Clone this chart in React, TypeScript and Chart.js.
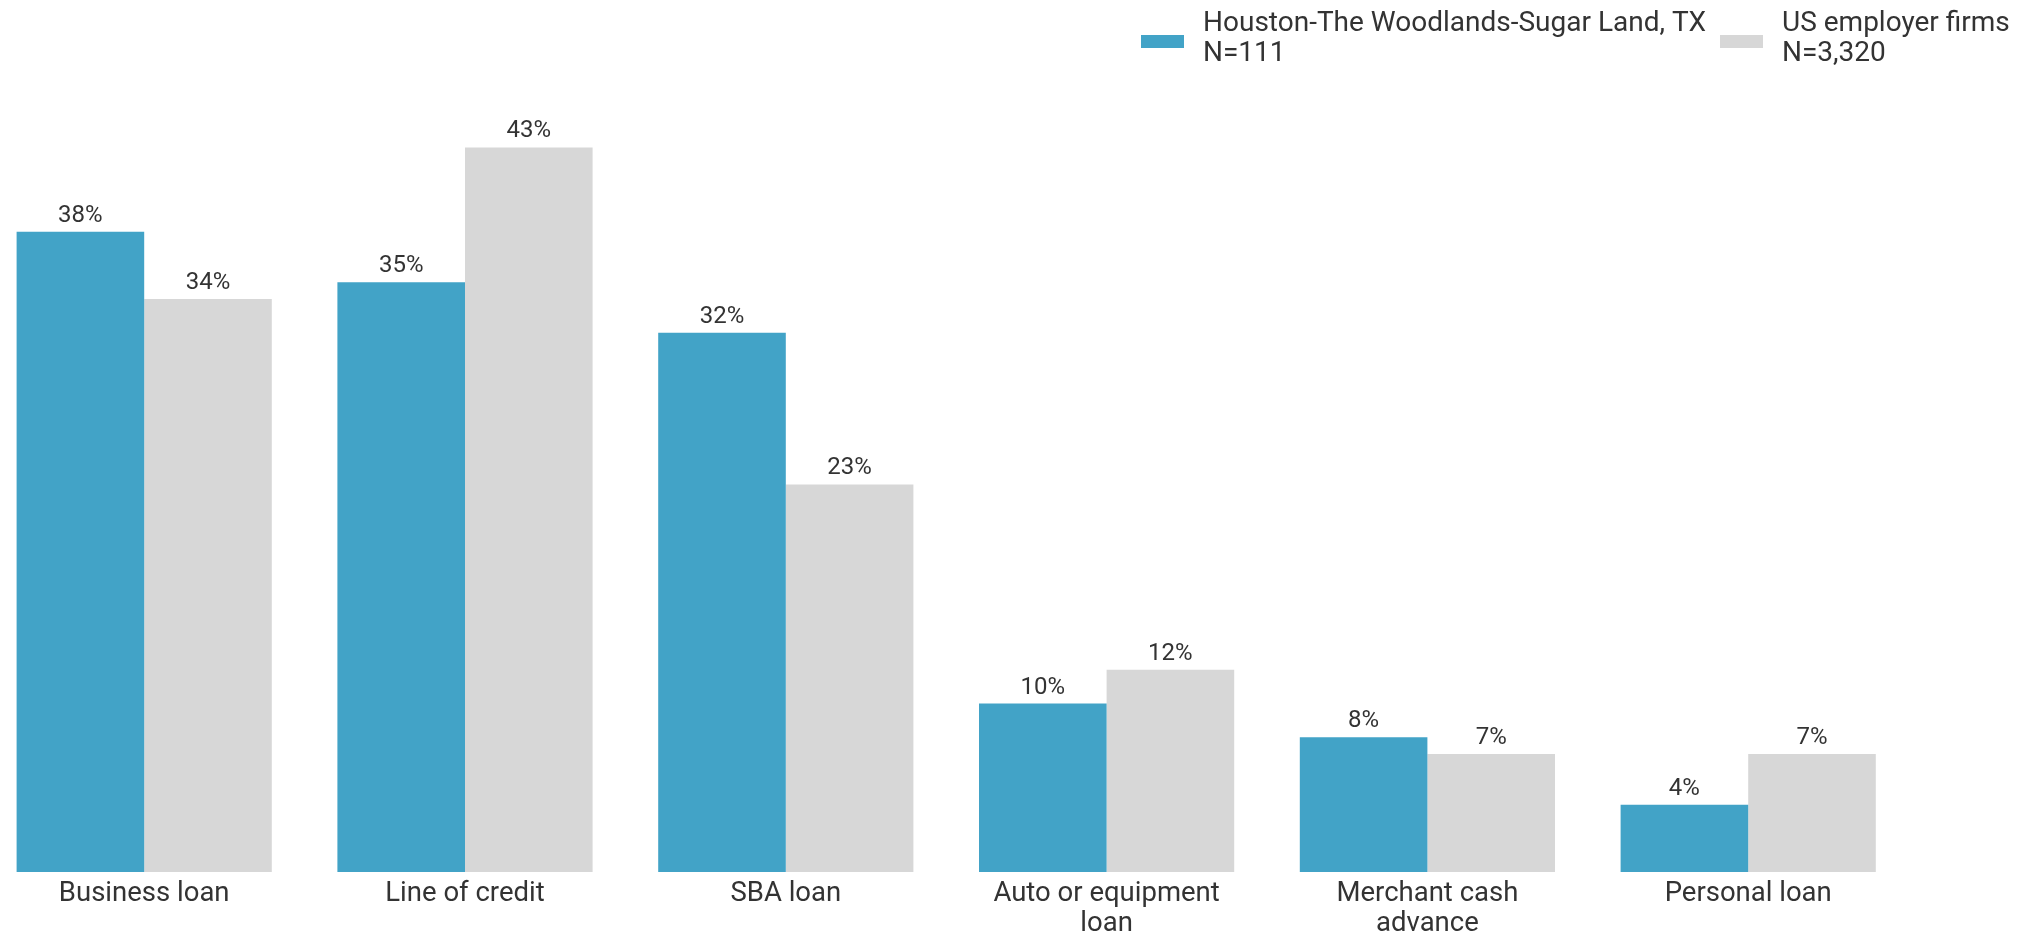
import React, { useEffect, useRef } from "react";
import { Chart, registerables } from "chart.js";

Chart.register(...registerables);

const categories: (string | string[])[] = [
  "Business loan",
  "Line of credit",
  "SBA loan",
  ["Auto or equipment", "loan"],
  ["Merchant cash", "advance"],
  "Personal loan",
];
const houstonValues = [38, 35, 32, 10, 8, 4];
const usValues = [34, 43, 23, 12, 7, 7];
const houstonLabel = ["Houston-The Woodlands-Sugar Land, TX", "N=111"];
const usLabel = ["US employer firms", "N=3,320"];

const BLUE = "#42A3C7";
const GRAY = "#D7D7D7";
const TEXT = "#333333";
const FONT = "Roboto";

const valueLabelPlugin = {
  id: "valueLabels",
  afterDatasetsDraw(chart: any) {
    const ctx = chart.ctx;
    ctx.save();
    ctx.font = `24px ${FONT}`;
    ctx.fillStyle = TEXT;
    ctx.textAlign = "center";
    ctx.textBaseline = "alphabetic";
    chart.data.datasets.forEach((ds: any, di: number) => {
      const meta = chart.getDatasetMeta(di);
      meta.data.forEach((bar: any, i: number) => {
        ctx.fillText(`${ds.data[i]}%`, bar.x, bar.y - 10);
      });
    });
    ctx.restore();
  },
};

const legendPlugin = {
  id: "customLegend",
  afterDraw(chart: any) {
    const ctx = chart.ctx;
    const items = [
      { boxX: 1181, textX: 1243 },
      { boxX: 1760, textX: 1822 },
    ];
    ctx.save();
    ctx.font = `28px ${FONT}`;
    ctx.textAlign = "left";
    ctx.textBaseline = "alphabetic";
    chart.data.datasets.forEach((ds: any, di: number) => {
      const it = items[di];
      ctx.fillStyle = ds.backgroundColor;
      ctx.fillRect(it.boxX, 35, 43, 13);
      ctx.fillStyle = TEXT;
      const lines: string[] = ds.label;
      lines.forEach((ln, li) => {
        ctx.fillText(ln, it.textX, 31 + li * 29.5);
      });
    });
    ctx.restore();
  },
};

export default function App() {
  const canvasRef = useRef<HTMLCanvasElement | null>(null);

  useEffect(() => {
    if (!canvasRef.current) return;
    const chart = new Chart(canvasRef.current, {
      type: "bar",
      data: {
        labels: categories as any,
        datasets: [
          {
            label: houstonLabel as any,
            data: houstonValues,
            backgroundColor: BLUE,
            barPercentage: 1,
            categoryPercentage: 0.7955,
          },
          {
            label: usLabel as any,
            data: usValues,
            backgroundColor: GRAY,
            barPercentage: 1,
            categoryPercentage: 0.7955,
          },
        ],
      },
      options: {
        animation: false,
        responsive: true,
        maintainAspectRatio: false,
        layout: { padding: { left: 23.8, right: 127.4, top: 29.5, bottom: 3 } },
        plugins: {
          legend: { display: false },
          tooltip: { enabled: false },
        },
        scales: {
          x: {
            grid: { display: false, drawTicks: false },
            border: { display: false },
            ticks: {
              color: TEXT,
              font: { family: FONT, size: 27.5, lineHeight: 1.09 },
              padding: 7,
              maxRotation: 0,
              autoSkip: false,
            },
          },
          y: {
            display: false,
            min: 0,
            max: 50,
          },
        },
      },
      plugins: [valueLabelPlugin, legendPlugin],
    });
    return () => chart.destroy();
  }, []);

  return (
    <div style={{ position: "fixed", left: -40, top: 0, width: 2076, height: 949, background: "#fff" }}>
      <canvas ref={canvasRef} />
    </div>
  );
}
